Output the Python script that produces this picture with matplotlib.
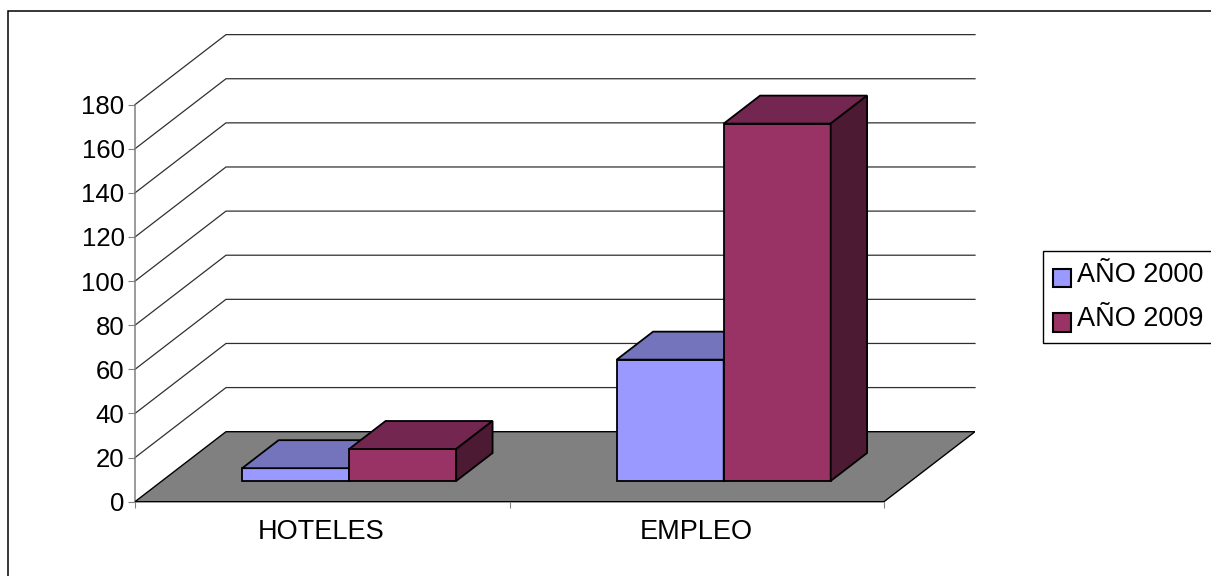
import numpy as np
import matplotlib.pyplot as plt
from matplotlib.patches import Patch, Polygon, Rectangle

categories = ['HOTELES', 'EMPLEO']
series_names = ['AÑO 2000', 'AÑO 2009']
values_2000 = [5.8, 55]
values_2009 = [14.5, 162]
y_ticks = np.arange(0, 181, 20)

front_colors = ['#9999FF', '#993366']
top_colors = ['#7474BC', '#732650']
side_colors = ['#5C5C99', '#4D1A33']

W, H = 1211, 576
plt.rcParams['font.family'] = ['Liberation Sans', 'DejaVu Sans']

fig = plt.figure(figsize=(W / 100, H / 100), dpi=100)

# outer chart frame runs off the right and bottom of the picture
fig.add_artist(Rectangle((7.5 / W, -0.1), 1.2, 1.1 - 11.5 / H, transform=fig.transFigure,
                         fill=False, edgecolor='black', linewidth=1.1))

# plot box from the front-left corner to the back wall
ax = fig.add_axes([135 / W, 1 - 501.7 / H, 840 / W, 467 / H])
ax.patch.set_visible(False)
x_max = 840 / 374.5
y_max = 467 / 2.206
ax.set_xlim(0, x_max)
ax.set_ylim(0, y_max)

# fake 3d depth, in data units
depth_x = 91 / 374.5
depth_y = 70 / 2.206

# wall gridlines
for v in y_ticks[1:]:
    ax.plot([0, depth_x, x_max], [v, v + depth_y, v + depth_y], color='#303030',
            linewidth=0.9, zorder=1, clip_on=False)

# floor, over the grey axis line so its front edge stays dark
floor = [(0, 0), (2, 0), (2 + depth_x, depth_y), (depth_x, depth_y)]
ax.add_patch(Polygon(floor, closed=True, facecolor='#808080', edgecolor='black',
                     linewidth=1.0, zorder=2.6))

bar_w = 0.2857
bar_start = 0.296
bar_depth = 0.40
lw = 1.3

for j, vals in enumerate([values_2000, values_2009]):
    for i, v in enumerate(vals):
        x0 = i + 0.5 + (j - 1) * bar_w + bar_start * depth_x
        x1 = x0 + bar_w
        y0 = bar_start * depth_y
        y1 = y0 + v
        dx = bar_depth * depth_x
        dy = bar_depth * depth_y
        z = 3 + i * 2 + j
        ax.add_patch(Polygon([(x0, y0), (x1, y0), (x1, y1), (x0, y1)], closed=True,
                             facecolor=front_colors[j], edgecolor='black', linewidth=lw, zorder=z))
        ax.add_patch(Polygon([(x0, y1), (x1, y1), (x1 + dx, y1 + dy), (x0 + dx, y1 + dy)], closed=True,
                             facecolor=top_colors[j], edgecolor='black', linewidth=lw, zorder=z))
        ax.add_patch(Polygon([(x1, y0), (x1 + dx, y0 + dy), (x1 + dx, y1 + dy), (x1, y1)], closed=True,
                             facecolor=side_colors[j], edgecolor='black', linewidth=lw, zorder=z))

for s in ['top', 'right']:
    ax.spines[s].set_visible(False)
ax.spines['left'].set_bounds(0, 180)
ax.spines['bottom'].set_bounds(0, 2)
ax.spines['left'].set_color('#808080')
ax.spines['bottom'].set_color('#808080')
ax.spines['left'].set_linewidth(1.1)
ax.spines['bottom'].set_linewidth(1.1)

ax.set_yticks(y_ticks)
ax.tick_params(axis='y', labelsize=18.5, length=5, width=0.8, color='#808080', pad=2.5)
ax.set_xticks([0, 1, 2])
ax.set_xticklabels([])
ax.set_xticks([0.497, 1.5], labels=categories, minor=True)
ax.tick_params(axis='x', which='major', length=4.3, width=0.8, color='#808080')
ax.tick_params(axis='x', which='minor', length=0, labelsize=19.5, pad=12.8)

handles = [Patch(facecolor=c, edgecolor='black', linewidth=1.5) for c in front_colors]
leg = fig.legend(handles, series_names, loc='upper left',
                 bbox_to_anchor=(1043 / W, 1 - 251.5 / H), borderaxespad=0,
                 fontsize=19.5, frameon=True, fancybox=False, framealpha=1,
                 edgecolor='black', handlelength=0.667, handleheight=0.667,
                 handletextpad=0.22, labelspacing=0.69, borderpad=0.38)
leg.get_frame().set_linewidth(1.0)
# swatches sit a little below the text
for p in leg.get_patches():
    p.set_y(p.get_y() - 4)

fig.savefig('out.png', dpi=100)
